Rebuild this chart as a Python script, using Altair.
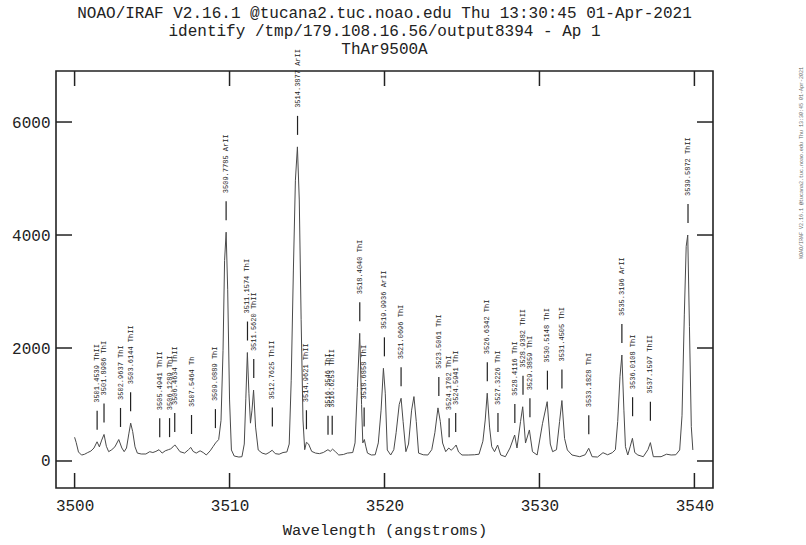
import altair as alt
import pandas as pd

title_lines = [
    "NOAO/IRAF V2.16.1 @tucana2.tuc.noao.edu Thu 13:30:45 01-Apr-2021",
    "identify /tmp/179.108.16.56/output8394 - Ap 1",
    "ThAr9500A",
]
x_title = "Wavelength (angstroms)"
stamp_text = "NOAO/IRAF V2.16.1 @tucana2.tuc.noao.edu Thu 13:30:45 01-Apr-2021"
x_ticks = [3500, 3510, 3520, 3530, 3540]
y_ticks = [0, 2000, 4000, 6000]
x_domain = [3498.8, 3541.2]
y_domain = [-478, 6903]

wavelength = [
    3500.00, 3500.10, 3500.25, 3500.45, 3500.65, 3500.85, 3501.05, 3501.25, 3501.45, 3501.60,
    3501.75, 3501.90, 3502.05, 3502.20, 3502.40, 3502.60, 3502.85, 3503.05, 3503.20, 3503.35,
    3503.50, 3503.62, 3503.75, 3503.90, 3504.05, 3504.30, 3504.60, 3504.85, 3505.05, 3505.25,
    3505.45, 3505.65, 3505.85, 3506.05, 3506.20, 3506.35, 3506.47, 3506.60, 3506.80, 3507.10,
    3507.35, 3507.50, 3507.65, 3507.85, 3508.10, 3508.30, 3508.50, 3508.75, 3508.95, 3509.10,
    3509.30, 3509.45, 3509.58, 3509.68, 3509.78, 3509.88, 3510.00, 3510.12, 3510.30, 3510.60,
    3510.80, 3510.95, 3511.05, 3511.15, 3511.25, 3511.35, 3511.45, 3511.55, 3511.68, 3511.85,
    3512.10, 3512.35, 3512.55, 3512.75, 3512.95, 3513.20, 3513.45, 3513.70, 3513.85, 3513.98,
    3514.12, 3514.25, 3514.38, 3514.50, 3514.62, 3514.74, 3514.85, 3514.96, 3515.10, 3515.30,
    3515.55, 3515.80, 3516.05, 3516.35, 3516.50, 3516.65, 3516.85, 3517.05, 3517.35, 3517.60,
    3517.95, 3518.10, 3518.25, 3518.40, 3518.52, 3518.60, 3518.70, 3518.80, 3518.90, 3519.15,
    3519.40, 3519.60, 3519.78, 3519.93, 3520.05, 3520.18, 3520.40, 3520.60, 3520.75, 3520.95,
    3521.07, 3521.20, 3521.38, 3521.55, 3521.75, 3521.90, 3522.05, 3522.20, 3522.50, 3522.80,
    3523.05, 3523.25, 3523.45, 3523.60, 3523.75, 3523.95, 3524.15, 3524.30, 3524.50, 3524.62,
    3524.78, 3525.00, 3525.40, 3525.80, 3526.10, 3526.35, 3526.50, 3526.63, 3526.78, 3526.92,
    3527.10, 3527.30, 3527.50, 3527.80, 3528.10, 3528.40, 3528.55, 3528.78, 3528.92, 3529.10,
    3529.35, 3529.55, 3529.85, 3530.20, 3530.50, 3530.70, 3530.85, 3531.10, 3531.30, 3531.45,
    3531.62, 3531.80, 3532.10, 3532.60, 3532.95, 3533.18, 3533.40, 3533.75, 3534.10, 3534.40,
    3534.70, 3534.90, 3535.05, 3535.20, 3535.32, 3535.45, 3535.55, 3535.70, 3535.85, 3536.00,
    3536.15, 3536.35, 3536.70, 3537.00, 3537.16, 3537.35, 3537.85, 3538.20, 3538.50, 3538.80,
    3539.05, 3539.20, 3539.35, 3539.47, 3539.57, 3539.68, 3539.80, 3539.90,
]
flux = [
    420, 330, 160, 105, 120, 150, 175, 230, 340, 250,
    370, 470, 260, 165, 200, 250, 380, 230, 165, 230,
    480, 670, 520, 250, 140, 124, 124, 165, 150, 170,
    200, 140, 180, 200, 215, 250, 285, 240, 165, 140,
    200, 240, 170, 140, 180, 150, 106, 180, 260, 320,
    380, 720, 1960, 3550, 4050, 3030, 1080, 195, 88, 70,
    76, 300, 1100, 1920, 1200, 670, 900, 1255, 600, 195,
    140, 120, 150, 190, 130, 120, 150, 160, 300, 1430,
    3380, 4970, 5560, 4620, 2500, 726, 200, 330, 300, 170,
    140, 130, 150, 200, 170, 210, 160, 106, 115, 140,
    150, 320, 1300, 2260, 1000, 320, 380, 250, 140, 106,
    110, 320, 900, 1640, 1200, 195, 106, 200, 500, 1000,
    1110, 700, 165, 300, 900, 1140, 700, 140, 110, 106,
    200, 500, 940, 700, 318, 165, 230, 190, 240, 283,
    160, 106, 106, 110, 120, 350, 726, 1200, 600, 253,
    165, 283, 106, 76, 230, 460, 230, 700, 960, 318,
    549, 165, 106, 667, 1050, 300, 165, 200, 700, 1070,
    400, 195, 106, 76, 110, 225, 76, 70, 147, 110,
    147, 200, 700, 1500, 1876, 900, 253, 106, 250, 401,
    150, 106, 76, 200, 325, 76, 76, 120, 106, 110,
    195, 800, 2600, 3800, 4000, 2377, 607, 195,
]

feat_wl = [
    3501.4539, 3501.8986, 3502.9637, 3503.6144, 3505.4941, 3506.1289, 3506.4634, 3507.5464,
    3509.0889, 3509.7785, 3511.1574, 3511.5620, 3512.7625, 3514.3877, 3514.9621, 3516.3546,
    3516.6253, 3518.4040, 3518.6858, 3519.9936, 3521.0696, 3523.5061, 3524.1702, 3524.5941,
    3526.6342, 3527.3226, 3528.4116, 3528.9382, 3529.3859, 3530.5148, 3531.4505, 3533.1828,
    3535.3196, 3536.0108, 3537.1597, 3539.5872,
]
feat_species = [
    "ThII", "ThI", "ThI", "ThII", "ThII", "ThI", "ThII", "Th",
    "ThI", "ArII", "ThI", "ThII", "ThII", "ArII", "ThII", "ThI",
    "ThII", "ThI", "ThI", "ArII", "ThI", "ThI", "ThI", "ThI",
    "ThI", "ThI", "ThI", "ThII", "ThI", "ThI", "ThI", "ThI",
    "ArII", "ThI", "ThII", "ThII",
]
feat_level = [
    340, 470, 390, 670, 210, 210, 300, 265,
    370, 4050, 1920, 1255, 400, 5560, 350, 250,
    250, 2260, 400, 1640, 1110, 940, 210, 300,
    1200, 300, 460, 960, 560, 1050, 1070, 260,
    1876, 580, 500, 4000,
]

W, H = 657, 417
FONT = "Liberation Mono"
INK = "#222222"

spec_df = pd.DataFrame({"wl": wavelength, "flux": flux})
feat_df = pd.DataFrame({
    "wl": feat_wl,
    "level": feat_level,
    "label": [f"{w:.4f} {s}" for w, s in zip(feat_wl, feat_species)],
})
xt_df = pd.DataFrame({"t": x_ticks})
yt_df = pd.DataFrame({"t": y_ticks})

xs = alt.Scale(domain=x_domain, nice=False, zero=False)
ys = alt.Scale(domain=y_domain, nice=False, zero=False)
x_axis = alt.Axis(
    values=x_ticks, ticks=False, domain=False, grid=False, format="d",
    labelFont=FONT, labelFontSize=16, labelColor=INK, labelPadding=9,
    title=x_title, titleFont=FONT, titleFontSize=15.5, titleFontWeight="normal",
    titleColor=INK, titlePadding=9)
y_axis = alt.Axis(
    values=y_ticks, ticks=False, domain=False, grid=False, format="d",
    labelFont=FONT, labelFontSize=16, labelColor=INK, labelPadding=6, title=None)


def X(field):
    return alt.X(field, scale=xs, axis=x_axis, title=x_title)


def Y(field):
    return alt.Y(field, scale=ys, axis=y_axis, title=None)


spectrum = alt.Chart(spec_df).mark_line(color="#4a4a4a", strokeWidth=1).encode(
    x=X("wl:Q"), y=Y("flux:Q"))

tick_top = alt.Chart(xt_df).mark_rule(color=INK, strokeWidth=1.5).encode(
    x=X("t:Q"), y=alt.value(0), y2=alt.value(15))
tick_bot = alt.Chart(xt_df).mark_rule(color=INK, strokeWidth=1.5).encode(
    x=X("t:Q"), y=alt.value(H), y2=alt.value(H - 15))
tick_left = alt.Chart(yt_df).mark_rule(color=INK, strokeWidth=1.5).encode(
    y=Y("t:Q"), x=alt.value(0), x2=alt.value(16))
tick_right = alt.Chart(yt_df).mark_rule(color=INK, strokeWidth=1.5).encode(
    y=Y("t:Q"), x=alt.value(W), x2=alt.value(W - 16))

feat_ticks = alt.Chart(feat_df).mark_rule(
    color=INK, strokeWidth=1.2, yOffset=-12, y2Offset=-31).encode(
    x=X("wl:Q"), y=Y("level:Q"), y2=alt.Y2("level:Q"))
feat_text = alt.Chart(feat_df).mark_text(
    angle=270, align="left", baseline="middle", yOffset=-39,
    font=FONT, fontSize=7, color=INK).encode(
    x=X("wl:Q"), y=Y("level:Q"), text="label:N")

stamp = alt.Chart(pd.DataFrame({"s": [stamp_text]})).mark_text(
    angle=270, align="left", baseline="middle", font=FONT, fontSize=5,
    color="#666666").encode(x=alt.value(W + 88), y=alt.value(188), text="s:N")

chart = alt.layer(
    spectrum, tick_top, tick_bot, tick_left, tick_right, feat_ticks, feat_text, stamp
).properties(
    width=W, height=H,
    title=alt.TitleParams(text=title_lines, font=FONT, fontSize=16, fontWeight="normal",
                          lineHeight=18, anchor="middle", color=INK, offset=14,
                          frame="group", dy=22),
    autosize=alt.AutoSizeParams(type="none"),
    padding={"left": 56, "top": 71, "right": 93, "bottom": 57},
    background="white",
).configure_view(stroke=INK, strokeWidth=1.6)

chart.save("out.html", embed_options={"renderer": "svg", "actions": False})
